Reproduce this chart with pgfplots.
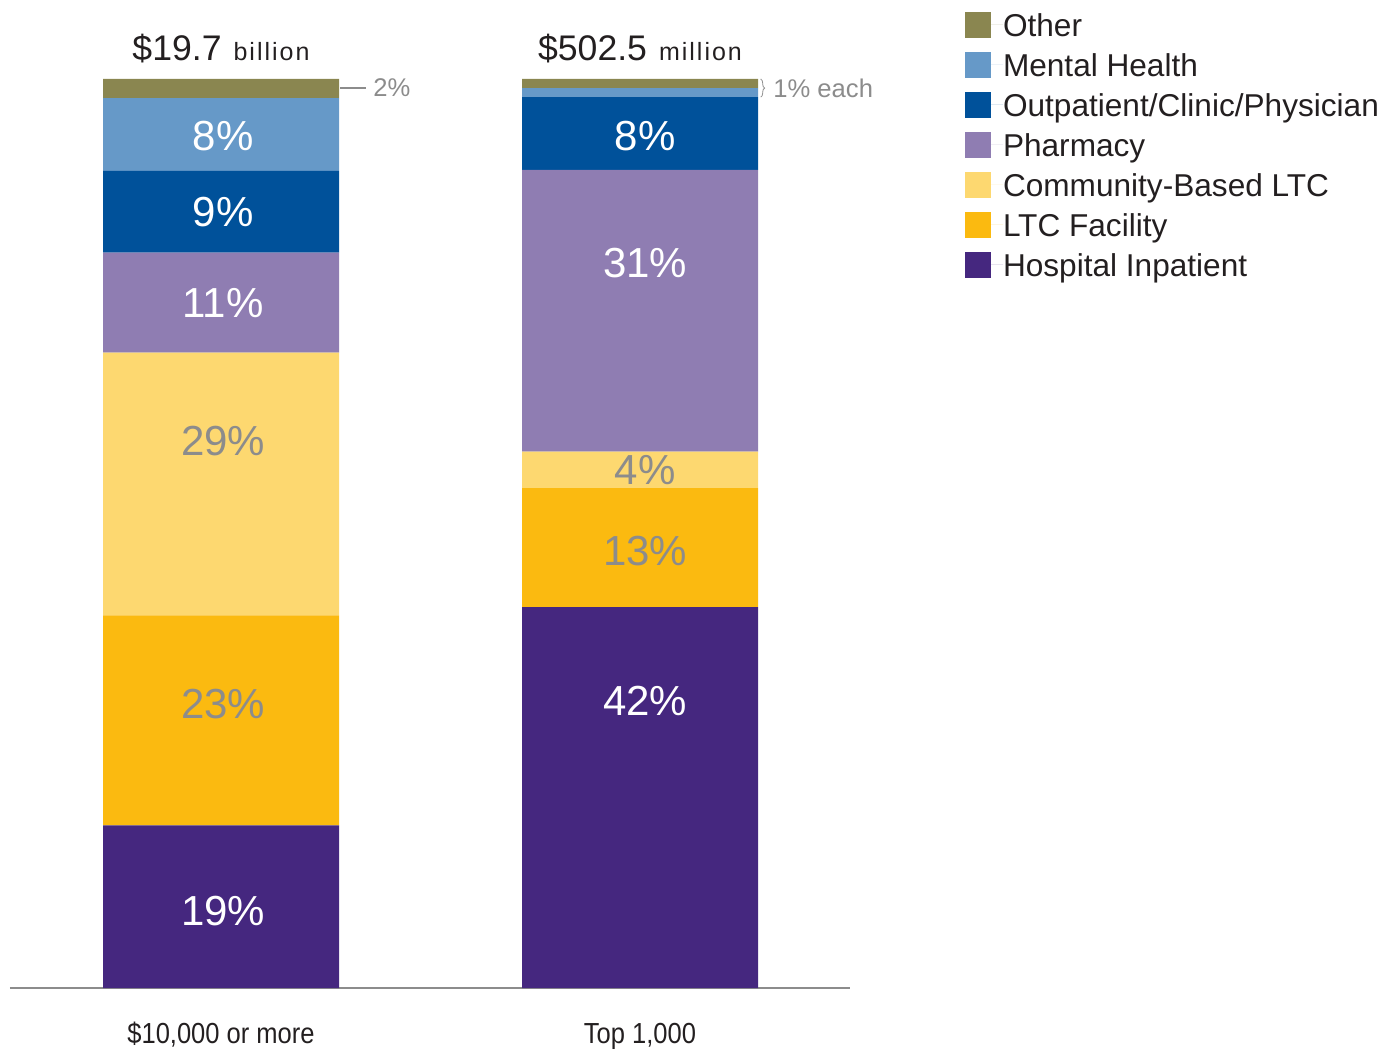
\documentclass[border=0pt]{standalone}
\usepackage{fontspec}
\setmainfont{Liberation Sans}
\newfontfamily\spacedfont[LetterSpace=8]{Liberation Sans}
\usepackage{graphicx}
\usepackage{pgfplots}
\pgfplotsset{compat=1.18}
\usetikzlibrary{decorations.pathreplacing}
\definecolor{cOther}{HTML}{8A8650}
\definecolor{cMental}{HTML}{6699C8}
\definecolor{cOut}{HTML}{00519A}
\definecolor{cPharm}{HTML}{8F7DB2}
\definecolor{cComm}{HTML}{FDD870}
\definecolor{cLTC}{HTML}{FBBA10}
\definecolor{cHosp}{HTML}{45277F}
\definecolor{cAxis}{HTML}{8C8C8C}
\definecolor{cLab}{HTML}{8C8C8C}
\definecolor{cText}{HTML}{231F20}
\begin{document}
\begin{tikzpicture}
\useasboundingbox (0,0) rectangle (692.5pt,525pt);
\begin{axis}[
  at={(5pt,31pt)}, anchor=south west,
  scale only axis, width=420pt, height=454.5pt,
  ybar stacked, bar width=118pt,
  xmin=-0.5036, xmax=1.5012, ymin=0, ymax=100,
  enlargelimits=false,
  axis x line*=bottom, axis y line=none,
  x axis line style={-, draw=cAxis, line width=1pt},
  xtick={0,1},
  xticklabels={{\scalebox{0.88}[1]{\$10,000 or more}},{\scalebox{0.88}[1]{Top 1,000}}},
  xtick style={draw=none}, ytick=\empty,
  xticklabel style={anchor=base, yshift=-27.5pt, text=cText, font=\fontsize{14.5}{17}\selectfont},
  clip=false,
  legend style={at={(1.1369,1.0737)}, anchor=north west, draw=none, fill=none,
    inner sep=0pt, outer sep=0pt, font=\fontsize{15.8}{18}\selectfont, text=cText,
    row sep=7pt, nodes={inner sep=0pt, text height=11.5pt, text depth=0pt}},
  legend cell align=left,
  reverse legend,
  legend image code/.code={\path (0pt,0pt) -- (19pt,0pt); \fill[#1] (0pt,-6.5pt) rectangle (13pt,6.5pt);},
]
\addplot[fill=cHosp, draw=none] coordinates {(0,17.9) (1,41.9)};
\addlegendentry{Hospital Inpatient}
\addplot[fill=cLTC, draw=none] coordinates {(0,23.1) (1,13.1)};
\addlegendentry{LTC Facility}
\addplot[fill=cComm, draw=none] coordinates {(0,28.9) (1,4.0)};
\addlegendentry{Community-Based LTC}
\addplot[fill=cPharm, draw=none] coordinates {(0,11.0) (1,31.0)};
\addlegendentry{Pharmacy}
\addplot[fill=cOut, draw=none] coordinates {(0,9.0) (1,8.0)};
\addlegendentry{Outpatient/Clinic/Physician}
\addplot[fill=cMental, draw=none] coordinates {(0,8.0) (1,1.0)};
\addlegendentry{Mental Health}
\addplot[fill=cOther, draw=none] coordinates {(0,2.1) (1,1.0)};
\addlegendentry{Other}

\coordinate (a1) at (axis cs:0.005,93.7);
\coordinate (a2) at (axis cs:0.005,85.4);
\coordinate (a3) at (axis cs:0.005,75.4);
\coordinate (a4) at (axis cs:0.005,60.2);
\coordinate (a5) at (axis cs:0.005,31.2);
\coordinate (a6) at (axis cs:0.005,8.5);
\coordinate (b1) at (axis cs:1.012,93.7);
\coordinate (b2) at (axis cs:1.012,79.8);
\coordinate (b3) at (axis cs:1.012,57.0);
\coordinate (b4) at (axis cs:1.012,48.1);
\coordinate (b5) at (axis cs:1.012,31.6);

\node[anchor=base, text=cText, inner sep=0pt] at (axis cs:0,102.0)
  {{\fontsize{17.8}{20}\selectfont\$19.7}\hspace{6pt}{\spacedfont\fontsize{12.5}{15}\selectfont billion}};
\node[anchor=base, text=cText, inner sep=0pt] at (axis cs:1,102.0)
  {{\fontsize{17.8}{20}\selectfont\$502.5}\hspace{6pt}{\spacedfont\fontsize{12.5}{15}\selectfont million}};

\draw[cAxis, line width=0.6pt] (axis cs:0.2840,99) -- (axis cs:0.346,99);
\node[anchor=west, text=cLab, inner sep=0pt, font=\fontsize{12.8}{15}\selectfont] at (axis cs:0.3628,99) {2\%};
\draw[cLab, line width=0.4pt, decorate, decoration={brace, amplitude=2pt}] (axis cs:1.2880,100) -- (axis cs:1.2880,98);
\node[anchor=west, text=cLab, inner sep=0pt, font=\fontsize{12.8}{15}\selectfont] at (axis cs:1.3174,99) {1\% each};
\end{axis}
\begin{scope}[every node/.style={font=\fontsize{21}{24}\selectfont, inner sep=0pt}]
\node[text=white] at (a1) {8\%};
\node[text=white] at (a2) {9\%};
\node[text=white] at (a3) {11\%};
\node[text=cLab] at (a4) {29\%};
\node[text=cLab] at (a5) {23\%};
\node[text=white] at (a6) {19\%};
\node[text=white] at (b1) {8\%};
\node[text=white] at (b2) {31\%};
\node[text=cLab] at (b3) {4\%};
\node[text=cLab] at (b4) {13\%};
\node[text=white] at (b5) {42\%};
\end{scope}
\end{tikzpicture}
\end{document}
